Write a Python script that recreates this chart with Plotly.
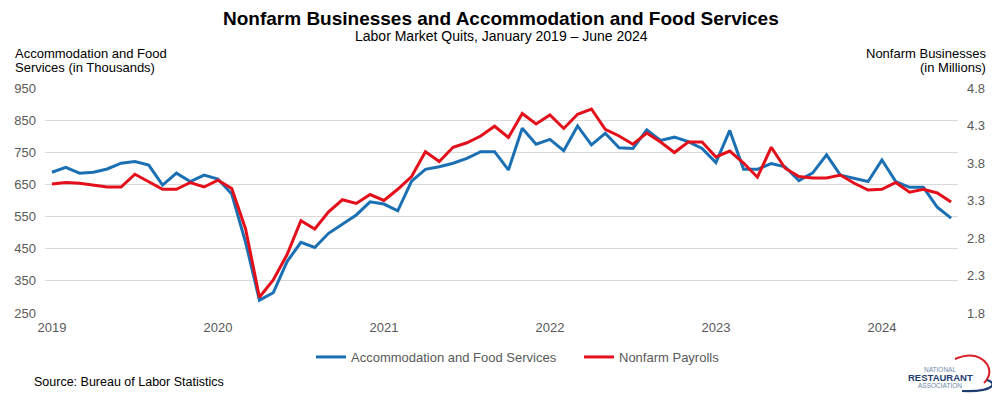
import plotly.graph_objects as go

# ---- data ----
years = ["2019", "2020", "2021", "2022", "2023", "2024"]
months_per_year = 12

accom_food = [  # thousands, Jan 2019 - Jun 2024
    688, 703, 685, 688, 698, 716, 721, 710, 648, 685, 659, 679,
    667, 620, 470, 290, 313, 410, 470, 454, 498, 527, 555, 596,
    589, 568, 660, 697, 705, 716, 731, 752, 752, 695, 825, 775,
    790, 755, 832, 773, 809, 764, 762, 820, 787, 797, 783, 762,
    718, 818, 697, 697, 715, 705, 662, 686, 742, 679, 669, 659,
    726, 659, 641, 641, 579, 545,
]
nonfarm = [  # millions, Jan 2019 - Jun 2024
    3.52, 3.54, 3.53, 3.51, 3.48, 3.48, 3.65, 3.55, 3.45, 3.45, 3.54, 3.48,
    3.57, 3.46, 2.92, 2.01, 2.24, 2.58, 3.03, 2.92, 3.15, 3.31, 3.26, 3.38,
    3.30, 3.45, 3.62, 3.95, 3.82, 4.01, 4.07, 4.16, 4.29, 4.14, 4.46, 4.32,
    4.44, 4.26, 4.45, 4.52, 4.25, 4.16, 4.05, 4.20, 4.08, 3.94, 4.08, 4.08,
    3.88, 3.96, 3.80, 3.61, 4.01, 3.73, 3.62, 3.60, 3.60, 3.64, 3.53, 3.44,
    3.45, 3.54, 3.41, 3.45, 3.40, 3.28,
]
month_index = list(range(len(accom_food)))
year_ticks = [i * months_per_year for i in range(len(years))]

FONT = "Liberation Sans, Arial, sans-serif"
BLUE = "#1B70B4"
RED = "#E3101B"
GRAY = "#595959"

# The page body has an 8px default margin, so the figure is drawn offset by 8px.
OFF = 8
W, H = 1000 - OFF, 403 - OFF
# plot area in screen pixels
L, R, T, B = 45, 958, 88, 313


def px(x, y):
    """screen pixel -> paper coordinates"""
    return (x - L) / (R - L), (B - y) / (B - T)


fig = go.Figure()
fig.add_trace(go.Scatter(
    x=month_index, y=accom_food, mode="lines", name="Accommodation and Food Services",
    line=dict(color=BLUE, width=3), yaxis="y"))
fig.add_trace(go.Scatter(
    x=month_index, y=nonfarm, mode="lines", name="Nonfarm Payrolls",
    line=dict(color=RED, width=3), yaxis="y2"))

annotations = []


def ann(text, x, y, size, color="black", xanchor="center", bold=False, yanchor="middle"):
    xp, yp = px(x, y)
    annotations.append(dict(
        text=f"<b>{text}</b>" if bold else text, x=xp, y=yp, xref="paper", yref="paper",
        xanchor=xanchor, yanchor=yanchor, showarrow=False,
        font=dict(family=FONT, size=size, color=color)))


ann("Nonfarm Businesses and Accommodation and Food Services", 501, 18, 19, bold=True)
ann("Labor Market Quits, January 2019 \u2013 June 2024", 501, 36, 14)
ann("Accommodation and Food", 13, 53, 13, xanchor="left")
ann("Services (in Thousands)", 13, 67, 13, xanchor="left")
ann("Nonfarm Businesses", 988, 53, 13, xanchor="right")
ann("(in Millions)", 988, 67, 13, xanchor="right")
ann("Source: Bureau of Labor Statistics", 32, 382, 12.5, xanchor="left")
# logo text
ann("NATIONAL", 940, 369.5, 6.5, color="#7089AA")
ann("<b>RESTAURANT</b>", 940, 377.5, 9.5, color="#1D3C70")
ann("ASSOCIATION", 940, 385, 6.5, color="#7089AA")


def path_from(points_cmds):
    out = []
    for cmd, pts in points_cmds:
        coords = " ".join(f"{px(x, y)[0]:.4f},{px(x, y)[1]:.4f}" for x, y in pts)
        out.append(f"{cmd} {coords}")
    return " ".join(out)


shapes = [
    dict(type="path", xref="paper", yref="paper",
         path=path_from([("M", [(955, 359)]), ("Q", [(976, 350), (987, 364)]),
                         ("Q", [(993, 374), (984, 383)])]),
         line=dict(color="#D9202A", width=2)),
    dict(type="path", xref="paper", yref="paper",
         path=path_from([("M", [(962, 391)]), ("Q", [(986, 392), (992, 386)]),
                         ("Q", [(994, 382), (987, 380)])]),
         line=dict(color="#1D3C70", width=2.2)),
]

fig.update_layout(
    width=W, height=H,
    margin=dict(l=L - OFF, r=W - (R - OFF), t=T - OFF, b=H - (B - OFF), autoexpand=False),
    paper_bgcolor="white", plot_bgcolor="white",
    font=dict(family=FONT, size=13, color=GRAY),
    showlegend=True,
    legend=dict(orientation="h", x=px(311, 0)[0], y=px(0, 357)[1], xanchor="left", yanchor="middle",
                font=dict(family=FONT, size=13, color=GRAY), itemwidth=30,
                entrywidth=223, entrywidthmode="pixels",
                bgcolor="rgba(0,0,0,0)"),
    xaxis=dict(range=[-0.5, len(accom_food) - 0.5], tickvals=year_ticks, ticktext=years,
               showgrid=False, zeroline=False, showline=False, ticks="", automargin=False,
               tickfont=dict(family=FONT, size=13, color=GRAY), ticklabelstandoff=5),
    yaxis=dict(range=[250, 950], dtick=100, tick0=250, showgrid=True, gridcolor="#D9D9D9",
               gridwidth=1, zeroline=False, showline=False, ticks="", automargin=False,
               tickfont=dict(family=FONT, size=13, color=GRAY), ticklabelstandoff=8),
    yaxis2=dict(range=[1.8, 4.8], dtick=0.5, tick0=1.8, overlaying="y", side="right",
                showgrid=False, zeroline=False, showline=False, ticks="", tickformat=".1f",
                automargin=False,
                tickfont=dict(family=FONT, size=13, color=GRAY), ticklabelstandoff=8),
    annotations=annotations,
    shapes=shapes,
)

fig.write_html("out.html")
